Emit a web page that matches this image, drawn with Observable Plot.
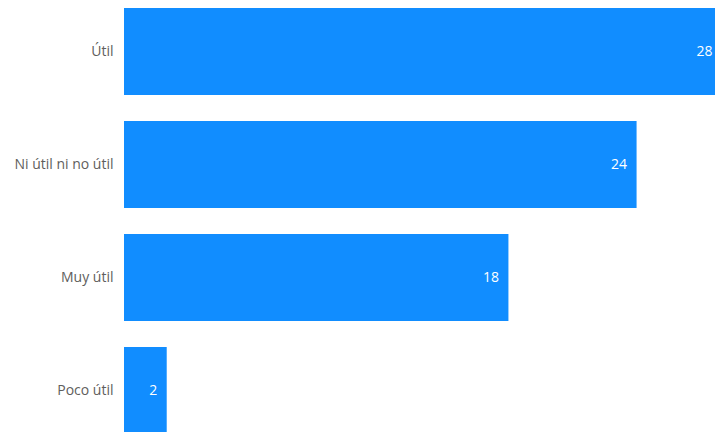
<!DOCTYPE html>
<html>
<head>
<meta charset="utf-8">
<script src="https://cdn.jsdelivr.net/npm/d3@7"></script>
<script src="https://cdn.jsdelivr.net/npm/@observablehq/plot@0.6"></script>
<style>
html, body { margin: 0; padding: 0; overflow: hidden; background: #fff; width: 715px; height: 432px; }
#chart svg { display: block; max-width: none !important; height: 436px !important; }
</style>
</head>
<body>
<div id="chart"></div>
<script>
const categories = ["Útil", "Ni útil ni no útil", "Muy útil", "Poco útil"];
const values = [28, 24, 18, 2];

const data = categories.map((c, i) => ({category: c, value: values[i]}));

const chart = Plot.plot({
  width: 722,
  height: 436,
  marginLeft: 124,
  marginRight: 0,
  marginTop: 8,
  marginBottom: 0,
  style: {fontFamily: "'Open Sans', 'Noto Sans', sans-serif", fontSize: "14px", background: "#fff", maxWidth: "none"},
  x: {domain: [0, 28], axis: null},
  y: {domain: categories, paddingInner: 0.233, paddingOuter: 0, align: 0, label: null, tickSize: 0, tickPadding: 11},
  marks: [
    Plot.barX(data, {x: "value", y: "category", fill: "#118DFF"}),
    Plot.axisY({tickSize: 0, tickPadding: 11, label: null, fill: "#605E5C", fontSize: 14}),
    Plot.text(data, {x: "value", y: "category", text: d => String(d.value), textAnchor: "end", dx: -10, fill: "white", fontSize: 14})
  ]
});
document.getElementById("chart").appendChild(chart);
</script>
</body>
</html>
